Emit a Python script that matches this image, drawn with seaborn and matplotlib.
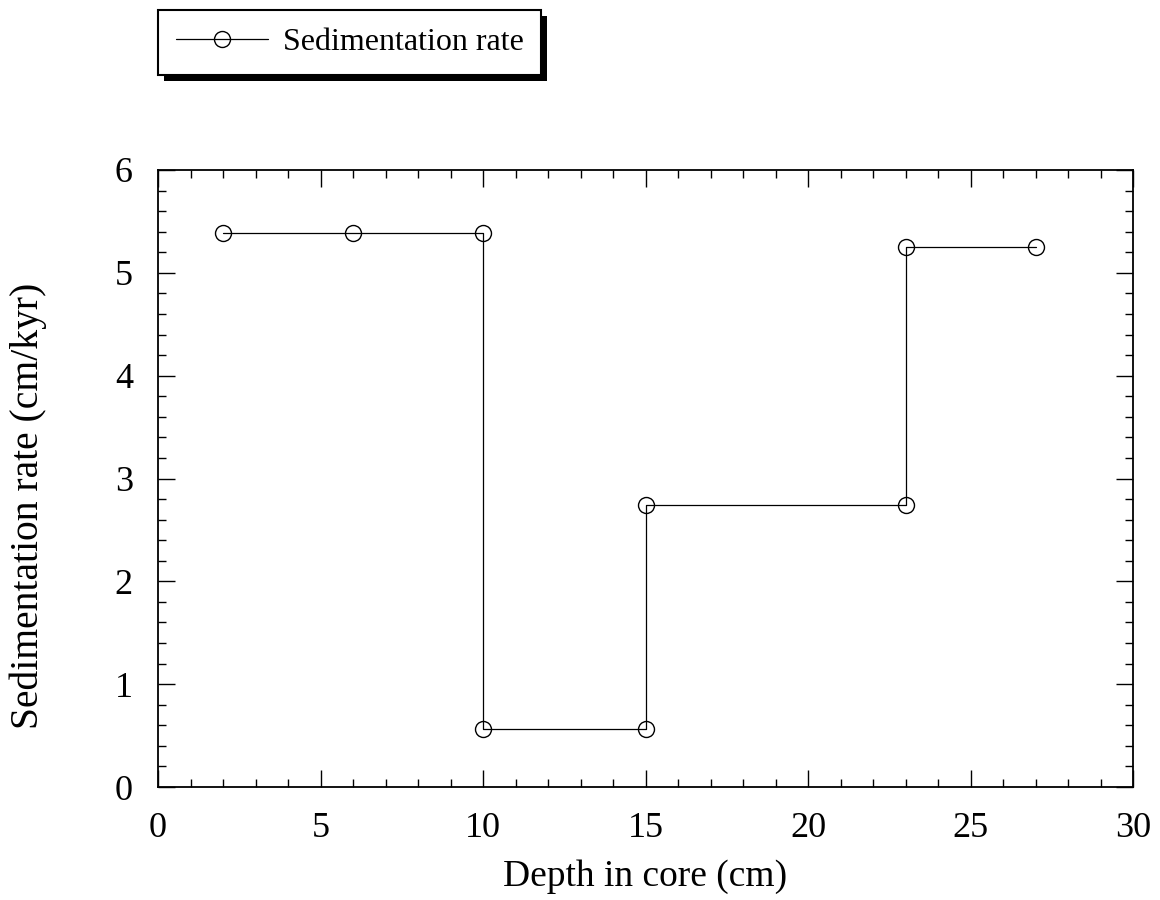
import matplotlib
matplotlib.use("Agg")
import matplotlib.pyplot as plt
import seaborn as sns
import pandas as pd
from matplotlib.patches import Rectangle
from matplotlib.ticker import MultipleLocator

depth = [2, 6, 10, 10, 15, 15, 23, 23, 27]
rate = [5.39, 5.39, 5.39, 0.56, 0.56, 2.74, 2.74, 5.25, 5.25]
series_name = "Sedimentation rate"
x_label = "Depth in core (cm)"
y_label = "Sedimentation rate (cm/kyr)"

sns.set_theme(style="ticks")
plt.rcParams["font.family"] = ["Liberation Serif", "DejaVu Serif"]
plt.rcParams["text.color"] = "black"
plt.rcParams["axes.labelcolor"] = "black"

df = pd.DataFrame({"depth": depth, "rate": rate, "series": series_name})

fig = plt.figure(figsize=(11.6, 9), dpi=100)
ax = fig.add_axes([158/1160, 1 - 787/900, (1133-158)/1160, (787-170)/900])

sns.lineplot(data=df, x="depth", y="rate", hue="series", palette=["black"],
             sort=False, estimator=None, marker="o", markersize=11.5,
             markerfacecolor="none", markeredgecolor="black", markeredgewidth=1.0,
             linewidth=0.9, ax=ax, legend=True)

ax.set_xlim(0, 30)
ax.set_ylim(0, 6)
ax.xaxis.set_major_locator(MultipleLocator(5))
ax.xaxis.set_minor_locator(MultipleLocator(1))
ax.yaxis.set_major_locator(MultipleLocator(1))
ax.yaxis.set_minor_locator(MultipleLocator(0.2))
ax.tick_params(which="both", direction="in", top=True, right=True, colors="black",
               labelsize=26, width=1.0)
ax.tick_params(which="major", length=12, pad=18)
ax.tick_params(which="minor", length=6)
for s in ax.spines.values():
    s.set_linewidth(1.3)
    s.set_color("black")
ax.set_xlabel(x_label, fontsize=27, labelpad=10, color="black")
ax.set_ylabel(y_label, fontsize=28.5, color="black")
ax.yaxis.set_label_coords(-0.114, 0.455)

h, l = ax.get_legend_handles_labels()
ax.get_legend().remove()
leg = fig.legend(h, l, loc="upper left", bbox_to_anchor=(158/1160, 1 - 10/900),
                 fontsize=23, frameon=True, fancybox=False, edgecolor="black",
                 framealpha=1, handlelength=2.9, borderpad=0.55, handletextpad=0.45,
                 borderaxespad=0)
for t in leg.get_texts():
    t.set_color("black")
leg.get_frame().set_linewidth(1.5)
leg.set_zorder(5)
fig.canvas.draw()
bb = leg.get_window_extent().transformed(fig.transFigure.inverted())
shadow = Rectangle((bb.x0 + 6/1160, bb.y0 - 6/900), bb.width, bb.height,
                   transform=fig.transFigure, facecolor="black", edgecolor="none", zorder=4)
fig.patches.append(shadow)

fig.savefig("out.png", dpi=100)
